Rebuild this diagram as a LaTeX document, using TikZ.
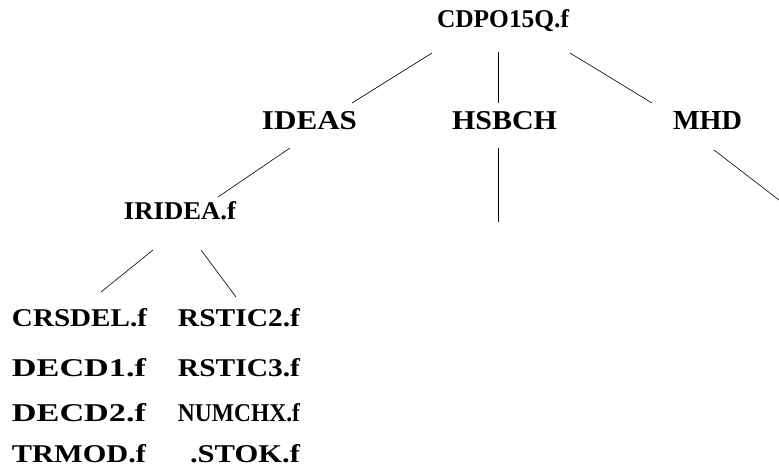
\documentclass[tikz,border=0pt]{standalone}
\usepackage{fontspec}
\setmainfont{Liberation Serif}
\usepackage{graphicx}
\newcommand{\squeezed}[2]{\resizebox{#1}{18pt}{\bfseries #2}}
\tikzset{
  lbl/.style={inner sep=0pt, outer sep=0pt, anchor=center},
  conn/.style={draw=black, line width=0.6pt}
}
\begin{document}
\begin{tikzpicture}[x=1pt,y=-1pt]
\useasboundingbox[fill=white] (0,0) rectangle (779,469);
\begin{scope}
\clip (0,0) rectangle (779,469);
\node[lbl] (root) at (503,20.5) {\squeezed{132pt}{CDPO15Q.f}};
\node[lbl] (ideas) at (309.5,121) {\squeezed{95pt}{IDEAS}};
\node[lbl] (hsb) at (504.5,121) {\squeezed{105pt}{HSBCH}};
\node[lbl] (mhd) at (707.5,121) {\squeezed{69pt}{MHD}};
\node[lbl] (irid) at (180,210.5) {\squeezed{112pt}{IRIDEA.f}};
\node[lbl] (l1) at (79.5,318) {\squeezed{135pt}{CRSDEL.f}};
\node[lbl] (l2) at (239,318) {\squeezed{122pt}{RSTIC2.f}};
\node[lbl] (l3) at (79,368) {\squeezed{134pt}{DECD1.f}};
\node[lbl] (l4) at (239,368) {\squeezed{122pt}{RSTIC3.f}};
\node[lbl] (l5) at (79,413) {\squeezed{134pt}{DECD2.f}};
\node[lbl] (l6) at (239,413) {\squeezed{122pt}{NUMCHX.f}};
\node[lbl] (l7) at (79,454) {\squeezed{134pt}{TRMOD.f}};
\node[lbl] (l8) at (245,454) {\squeezed{110pt}{.STOK.f}};
\coordinate (hsbend) at (498,222);
\coordinate (mhdend) at (779,200);
\draw[conn] ([xshift=-71pt,yshift=-32.5pt]root.center) -- ([xshift=42.5pt,yshift=18pt]ideas.center);
\draw[conn] ([xshift=-5pt,yshift=-31.5pt]root.center) -- ([xshift=-6.5pt,yshift=18pt]hsb.center);
\draw[conn] ([xshift=67pt,yshift=-32.5pt]root.center) -- ([xshift=-55.5pt,yshift=18pt]mhd.center);
\draw[conn] ([xshift=-19.5pt,yshift=-27pt]ideas.center) -- ([xshift=38pt,yshift=13.5pt]irid.center);
\draw[conn] ([xshift=-6.5pt,yshift=-27pt]hsb.center) -- (hsbend);
\draw[conn] ([xshift=6.5pt,yshift=-29pt]mhd.center) -- (mhdend);
\draw[conn] ([xshift=-27pt,yshift=-39.5pt]irid.center) -- ([xshift=21.5pt,yshift=26pt]l1.center);
\draw[conn] ([xshift=21pt,yshift=-39.5pt]irid.center) -- ([xshift=-3pt,yshift=21pt]l2.center);
\end{scope}
\end{tikzpicture}
\end{document}
